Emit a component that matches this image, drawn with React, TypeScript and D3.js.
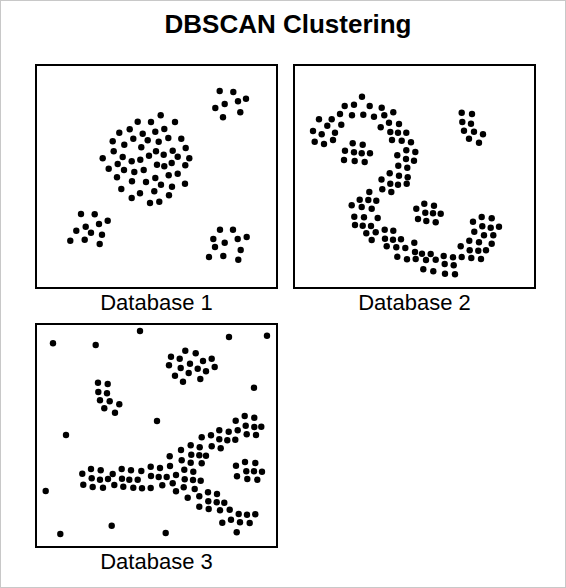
import React from "react";
import * as d3 from "d3";

const title = "DBSCAN Clustering";
const panelLabels = ["Database 1", "Database 2", "Database 3"];

const db1Points: [number, number][] = [
  [123.7,50.3],[100.7,56.7],[114,57],[138,57],[82.3,67.7],[92.7,64.3],[105.7,68.7],[118.3,66.7],[127.3,64],
  [75.7,76.3],[96.3,73.7],[110.7,75.3],[121.7,76.7],[131.3,73],[144.3,73.7],[87.3,79.7],[104.3,82.3],[148.7,83],
  [76.7,86.3],[119,86.3],[135.7,85.7],[126.7,89.7],[112,90.7],[65.7,93.3],[85.7,92],[94.7,96.3],[103.3,94.7],
  [140.7,91.7],[152.3,93.3],[80.7,99],[71.7,103.7],[87,105],[97.3,107],[106.7,105],[120,99.7],[127.3,101.3],
  [134.7,98],[148.3,100.3],[80,112.3],[95,116.3],[109,117],[118.3,113],[131.7,110.3],[140.7,108.7],[84.3,124],
  [103,128.3],[124,119.7],[135,121.7],[148,118.7],[117.3,126.3],[94.7,133],[113,138],[122.3,136.7],[132,130.3],
  [182.7,26],[196.3,27],[209,33.7],[201,36.3],[187.7,39],[178.3,43],[203.3,47.3],[186,52.3],
  [44,149],[57.7,149.3],[70.7,155.7],[62,159],[48.7,161.7],[39.3,165.7],[54,167.7],[65,169.7],[33.3,175.7],[47.7,174.7],[62.7,179],
  [183,164.7],[196,164.7],[176.3,174],[200.7,174],[209.7,172],[187.7,177.7],[178,182],[203.7,185],[172,192],[186.3,191],[201.3,194.7],
];

const db2Points: [number, number][] = [
  [67,31.7],[49.7,41],[59,39.7],[74.7,41],[86.7,42.7],[45,49],[57,50.3],[68.3,49.7],[79,51.7],[89.3,50.3],[98.3,47.3],
  [24,54.3],[36.7,54.3],[85.7,62.3],[94,57.7],[104,59],[32.3,60.7],[46.3,59.7],[18,66],[26.7,69.3],[40,67.7],
  [95.3,67],[103,67.7],[111.3,67.7],[19.7,76.7],[29,79],[38,75],[97,75],[106.7,75.7],[116,77.3],[111.3,85.3],
  [120.3,87],[102.3,90.3],[111,94],[119,95.7],[103.3,100.7],[112.3,102.7],[94.7,108.3],[104,110.7],[112.7,112.3],[86.5,114.5],
  [57.7,78.3],[67.7,79.7],[50,85.7],[59,87.3],[66.7,88.3],[75,88.3],[49,95],[59.7,96],[69.7,97],
  [95.3,118.7],[103,119.7],[111.7,118.7],[87.3,124.3],[96.3,127],[74.3,127],[64.7,134.7],[73.3,135],[81.3,135.7],
  [56.7,140.3],[66.7,142],[76.7,143.7],[59.3,151.7],[69,152.3],[82.7,153],[60,160],[67.7,160.7],[76,161],
  [71.3,168.3],[80.7,167.3],[89.7,164.7],[98.3,165.7],[76.7,175],[90,173.7],[98,174.7],[106,174.3],[91.7,181.3],
  [101.3,182.3],[110.3,183],[119.3,177.7],[102.3,191.7],[112,194.3],[120.7,194],[120,187],[127,188.7],[135.7,189],
  [131,195],[140.7,194.7],[148.7,191],[158,192.3],[166.7,192],[176.3,193],[149.7,199],[158.7,200.3],[128.3,204.3],
  [138.3,206.3],[150,208.7],[160,209.3],
  [178,156.7],[186.7,152],[196.7,153.3],[179.3,166.7],[187.3,161.3],[195.7,162.7],[204,161.7],[189,170.3],[198.3,170.3],
  [174.3,175.7],[184,177.3],[196.7,178.7],[165.7,181.3],[174.7,185.3],[183.3,185.7],[191,185.3],[186,194],
  [129.3,138.7],[139,140.7],[121.3,143.7],[130.3,147.7],[138,148.3],[145.7,148.7],[123,154],[131.3,156],[140.7,157.3],
  [166.7,47.7],[177,49],[167.3,57],[176,58.7],[169,65.7],[179,66.7],[188,69.3],[174,73.7],[184,77.7],
];

const db3Points: [number, number][] = [
  [16,20.3],[58.7,22],[103,8],[192,14],[230,12.7],[217,64.7],[120,98],[29,112],[8.7,168],[23.3,211],[74.7,202.7],[128.7,210],[199.7,209.3],
  [148.3,27.7],[158.7,30.3],[134,33.7],[142.7,35.7],[166,38],[174.7,35.7],[132,42.3],[143.7,45],[153,40.7],[160.7,45.7],
  [169,48.3],[177.7,44],[138,52.7],[151.7,50],[163.3,56],[146,58.7],
  [61,59.7],[70.7,61],[61.3,69],[70,70.3],[63,77.3],[72.7,78.3],[82.3,81.3],[67.3,85.3],[78,89.7],
  [208,139],[218.3,140],[199,142.7],[209.3,148.3],[217,148.3],[225,148.7],[200,153.3],[210.3,156],[220.3,156.7],
  [45.3,150.7],[46.3,161.7],[54,146],[54.7,155.3],[55.7,164],[63.7,147.3],[63,156.7],[66,164.7],[71,156],[75.7,151],
  [77.3,162],[84.7,146],[85,155.7],[86.3,163.7],[94,147.3],[92.3,156.7],[96.3,164.7],[104.3,148],[100.7,156.7],[105,165.3],
  [113.7,143.7],[114,153],[113.7,165],[123,145],[121.7,154],[125.3,162.3],[133,143],[132.7,133.3],[129.7,154],[135.7,160.3],
  [139,152],[139,168.3],[144.7,137.3],[144,127],[147.3,146.7],[146.7,164.3],
  [147.7,156.3],[156,157],[163.7,157.7],[157.7,166],[150.7,174.7],[162.3,173.3],[171,169.3],[180,171],[162.3,183.7],
  [171.3,178.3],[179.7,179.3],[187.3,179.7],[171.7,186],[183,187.3],[192.7,186.7],[201.7,191],[210,191.7],[218.3,191.3],
  [185.3,199.7],[194,196.7],[203,199.3],[212.7,200],
  [207.7,93],[217.3,94.7],[198.7,97.7],[208.7,102.7],[217.3,104],[224.3,103.7],[182.3,107.3],[191.7,108.7],[200.7,107.3],
  [209.7,111.3],[219,112],[174,112.3],[164.7,114.3],[182.3,116.3],[190.3,117.3],[198.3,116.7],[153.7,122.3],[162.7,124.3],
  [174.7,123.3],[183.7,125.3],[154.3,131.7],[162.3,132.3],[169,132.7],[153.7,139.7],[164.7,140.3],[156.3,148.7],
];

const datasets = [db1Points, db2Points, db3Points];

const W = 566;
const H = 588;
const PW = 241;
const PH = 223;
const panelPos: [number, number][] = [[36, 65], [294, 65], [36, 324]];

export default function App() {
  return (
    <svg
      width={W}
      height={H}
      style={{ position: "absolute", left: 0, top: 0, background: "#fff" }}
      fontFamily="'Liberation Sans', Arial, sans-serif"
    >
      <rect x={0.5} y={0.5} width={W - 1} height={H - 1} fill="#fff" stroke="#c8c8c8" />
      <text x={288} y={33} textAnchor="middle" fontSize={26} fontWeight="bold" fill="#000">
        {title}
      </text>
      {datasets.map((pts, i) => {
        const [px, py] = panelPos[i];
        const x = d3.scaleLinear().domain([0, 240]).range([px + 1, px + 241]);
        const y = d3.scaleLinear().domain([0, 223]).range([py + (i === 2 ? -1 : 0), py + 223 + (i === 2 ? -1 : 0)]);
        return (
          <g key={i}>
            <rect x={px} y={py} width={PW} height={PH} fill="none" stroke="#000" strokeWidth={2} />
            {pts.map((p, j) => (
              <circle key={j} cx={x(p[0])} cy={y(p[1])} r={3.2} fill="#000" />
            ))}
            <text x={px + PW / 2} y={py + PH + 22} textAnchor="middle" fontSize={22} fill="#000">
              {panelLabels[i]}
            </text>
          </g>
        );
      })}
    </svg>
  );
}
